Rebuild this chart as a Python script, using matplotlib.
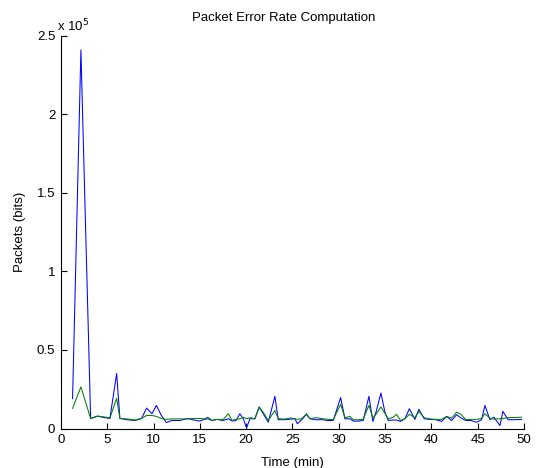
import matplotlib
matplotlib.use('Agg')
import matplotlib.pyplot as plt
from matplotlib.ticker import FuncFormatter

plt.rcParams['font.family'] = ['Liberation Sans', 'DejaVu Sans']

# time stamps (min)
time_min = [1.26, 2.16, 3.21, 3.96, 4.64, 5.29, 6.02, 6.37, 7.13, 8.00,
            8.71, 9.25, 9.83, 10.31, 10.85, 11.39, 11.99, 12.85, 13.71, 14.36,
            15.01, 15.44, 15.87, 16.31, 16.85, 17.49, 18.09, 18.47, 18.90, 19.33,
            19.69, 20.05, 20.41, 20.95, 21.41, 21.85, 22.39, 23.11, 23.47, 24.19,
            24.84, 25.27, 25.54, 25.99, 26.53, 26.89, 27.54, 28.29, 28.83, 29.41,
            30.21, 30.67, 31.21, 31.57, 32.07, 32.65, 33.26, 33.69, 34.02, 34.56,
            34.99, 35.35, 35.85, 36.25, 36.66, 37.15, 37.63, 38.23, 38.66, 39.23,
            39.85, 40.50, 41.11, 41.65, 42.19, 42.73, 43.20, 43.74, 44.28, 44.89,
            45.43, 45.79, 46.33, 46.76, 47.41, 47.73, 48.30, 49.03, 49.75]

blue_pkts = [19000, 241000, 6400, 7900, 7000, 6400, 35000, 6400, 5600, 5100,
             6400, 13000, 9400, 14700, 8300, 3800, 5100, 5100, 6400, 5400,
             4700, 5800, 6200, 5100, 5800, 5100, 6200, 4800, 5100, 9400,
             6200, 400, 6200, 6200, 13700, 9400, 4000, 20500, 5600, 5600,
             6000, 6200, 3000, 5600, 9000, 6200, 5600, 5600, 5100, 5100,
             19700, 6200, 6200, 4700, 4700, 5100, 20500, 4500, 10300, 22600,
             10400, 5100, 5400, 5400, 4500, 6200, 12600, 5800, 12200, 6200,
             5800, 5600, 4500, 7700, 5100, 8800, 6700, 5100, 5100, 4000,
             5600, 14700, 5600, 7200, 1900, 10900, 5600, 5600, 5800]

green_pkts = [12800, 26500, 6400, 7900, 7400, 6700, 19200, 6400, 6100, 5400,
              6400, 8300, 8300, 7700, 6400, 5800, 6100, 6100, 6100, 6400,
              6400, 6100, 7200, 5100, 5800, 5600, 9400, 5100, 5800, 6200,
              7200, 6200, 6900, 6200, 13700, 10300, 5100, 11500, 6200, 6000,
              6700, 6200, 5800, 6200, 9400, 6200, 6900, 6200, 5800, 5600,
              15400, 6900, 7700, 5600, 5500, 6000, 14700, 6700, 9000, 13700,
              9600, 6200, 7000, 9000, 5100, 6200, 9000, 6900, 10900, 6900,
              6100, 5800, 5800, 7700, 6600, 10400, 9000, 5600, 5800, 5800,
              6400, 9400, 6600, 6000, 6200, 6400, 6900, 7000, 7200]

fig = plt.figure(figsize=(5.39, 4.68), dpi=100)
ax = fig.add_axes([0.113, 0.0844, 0.859, 0.839])

ax.plot(time_min, blue_pkts, color='#0000FF', lw=0.75)
ax.plot(time_min, green_pkts, color='#008000', lw=0.75)

ax.set_xlim(0, 50)
ax.set_ylim(0, 250000)
ax.set_xticks(range(0, 51, 5))
ax.set_yticks([0, 50000, 100000, 150000, 200000, 250000])
ax.yaxis.set_major_formatter(FuncFormatter(lambda v, p: '%g' % (v / 1e5)))

for s in ['top', 'right']:
    ax.spines[s].set_visible(False)
for s in ['left', 'bottom']:
    ax.spines[s].set_linewidth(0.8)
ax.tick_params(direction='in', length=4, width=0.8, labelsize=9.5, pad=4)

fig.text(284 / 539, 1 - 18 / 468, 'Packet Error Rate Computation', fontsize=9.5,
         ha='center', va='center')
ax.set_xlabel('Time (min)', fontsize=9.5, labelpad=8)
ax.set_ylabel('Packets (bits)', fontsize=9.5, labelpad=8)
ax.text(-0.008, 1.003, r'x 10$^{5}$', transform=ax.transAxes, fontsize=9.5,
        ha='left', va='bottom')

fig.savefig('out.png', dpi=100)
